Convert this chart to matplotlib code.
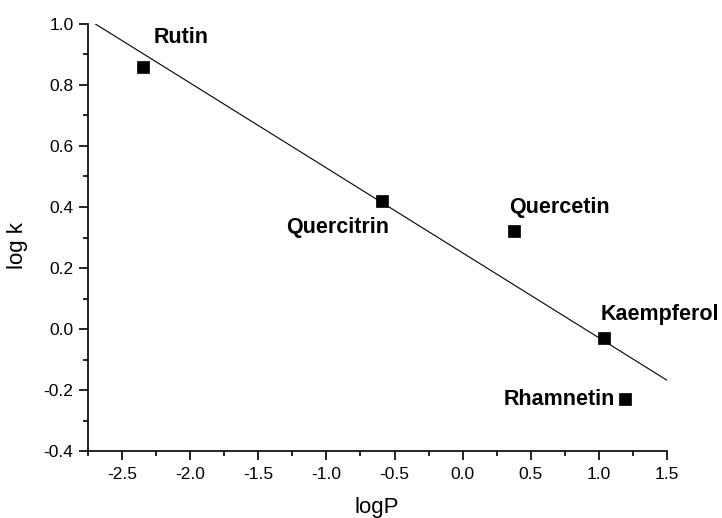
import numpy as np
import matplotlib.pyplot as plt
from matplotlib.ticker import MultipleLocator

plt.rcParams['font.family'] = ['Liberation Sans', 'DejaVu Sans']

# Compounds and their measured values
names = ['Rutin', 'Quercitrin', 'Quercetin', 'Kaempferol', 'Rhamnetin']
logP = [-2.35, -0.59, 0.38, 1.04, 1.19]
logk = [0.86, 0.42, 0.32, -0.03, -0.23]

# Label placement (data coords) and alignment
label_x = [-2.27, -0.54, 0.34, 1.015, 1.12]
label_y = [0.955, 0.334, 0.397, 0.049, -0.23]
label_ha = ['left', 'right', 'left', 'left', 'right']

fig = plt.figure(figsize=(7.22, 5.18), dpi=100)
ax = fig.add_axes([0.1219, 0.1293, 0.8019, 0.8244])

# linear fit
slope, intercept = np.polyfit(logP, logk, 1)
xfit = np.array([-2.7, 1.5])
ax.plot(xfit, slope * xfit + intercept, color='black', lw=0.8)

ax.plot(logP, logk, 's', color='black', ms=8.5, mew=0.5, clip_on=False)

for n, x, y, ha in zip(names, label_x, label_y, label_ha):
    ax.text(x, y, n, ha=ha, va='center', fontsize=15.5, fontweight='bold')

ax.set_xlim(-2.75, 1.5)
ax.set_ylim(-0.4, 1.0)
ax.xaxis.set_major_locator(MultipleLocator(0.5))
ax.xaxis.set_minor_locator(MultipleLocator(0.25))
ax.yaxis.set_major_locator(MultipleLocator(0.2))
ax.yaxis.set_minor_locator(MultipleLocator(0.1))
ax.xaxis.set_major_formatter(plt.FormatStrFormatter('%.1f'))
ax.yaxis.set_major_formatter(plt.FormatStrFormatter('%.1f'))

ax.spines['top'].set_visible(False)
ax.spines['right'].set_visible(False)
ax.spines['left'].set_linewidth(1.2)
ax.spines['bottom'].set_linewidth(1.2)
ax.tick_params(which='both', direction='out', width=1.2, labelsize=12.5)
ax.tick_params(which='major', length=6.5)
ax.tick_params(which='minor', length=3.5)
ax.tick_params(axis='x', pad=5)
ax.tick_params(axis='y', pad=4)

ax.set_xlabel('logP', fontsize=16)
ax.set_ylabel('log k', fontsize=16)
ax.xaxis.set_label_coords(0.499, -0.108)
ax.yaxis.set_label_coords(-0.104, 0.482)

fig.savefig('out.png', dpi=100)
